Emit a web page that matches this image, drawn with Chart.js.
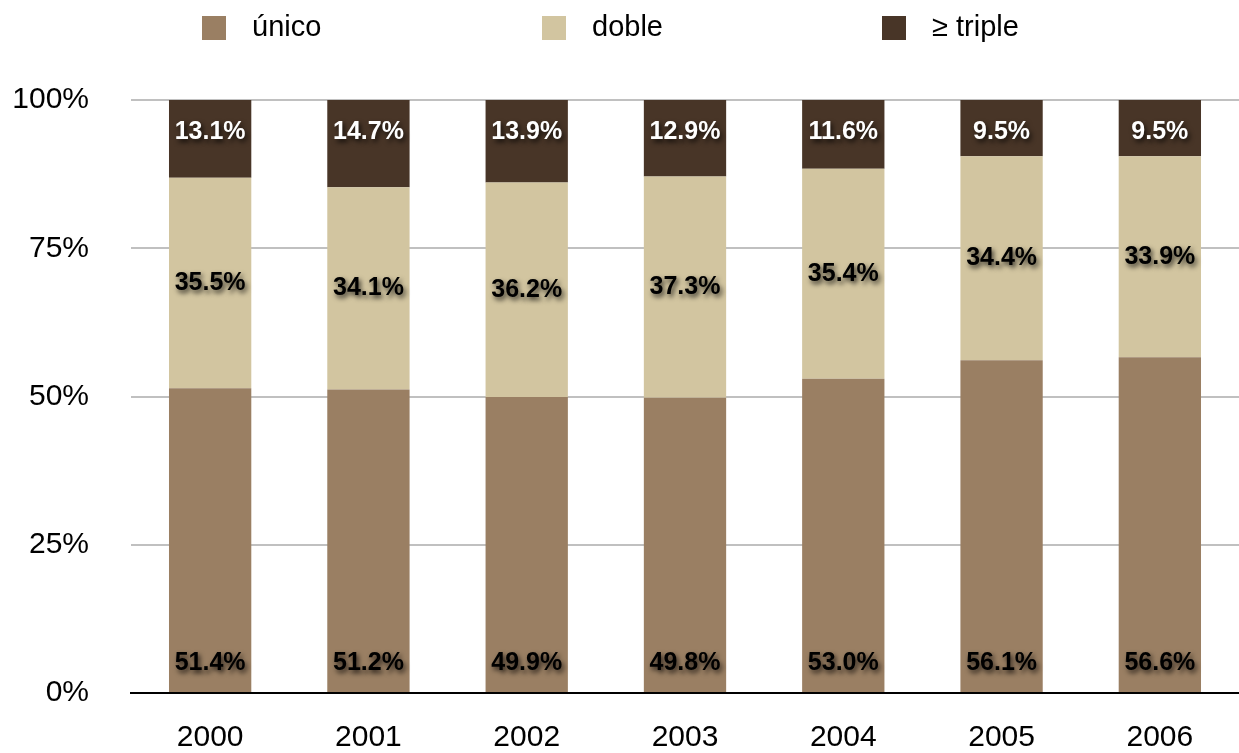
<!DOCTYPE html>
<html>
<head>
<meta charset="utf-8">
<script src="https://cdn.jsdelivr.net/npm/chart.js@4"></script>
<style>
  html, body { margin: 0; padding: 0; background: #fff; }
  #wrap { width: 1239px; height: 753px; }
</style>
</head>
<body>
<div id="wrap"><canvas id="grafico"></canvas></div>
<script>
const years = ['2000', '2001', '2002', '2003', '2004', '2005', '2006']
const unico = [51.4, 51.2, 49.9, 49.8, 53.0, 56.1, 56.6]
const doble = [35.5, 34.1, 36.2, 37.3, 35.4, 34.4, 33.9]
const triple = [13.1, 14.7, 13.9, 12.9, 11.6, 9.5, 9.5]
const seriesNames = ['único', 'doble', '≥ triple']
const seriesColors = ['#9a7f63', '#d2c5a0', '#483527']
const yTicks = [0, 25, 50, 75, 100]

const FONT = "'Liberation Sans', Arial, Helvetica, sans-serif"

// labels inside each bar segment, with a soft shadow
const segmentLabels = {
    id: 'segmentLabels',
    afterDatasetsDraw(chart) {
        const ctx = chart.ctx
        ctx.save()
        ctx.font = 'bold 25px ' + FONT
        ctx.textAlign = 'center'
        ctx.textBaseline = 'middle'
        ctx.shadowColor = 'rgba(0,0,0,0.75)'
        ctx.shadowBlur = 5
        ctx.shadowOffsetX = 2
        ctx.shadowOffsetY = 3
        chart.data.datasets.forEach((ds, i) => {
            chart.getDatasetMeta(i).data.forEach((bar, j) => {
                const top = Math.min(bar.y, bar.base)
                const bottom = Math.max(bar.y, bar.base)
                let y
                if (i === 0) y = bottom - 29
                else if (i === 1) y = (top + bottom) / 2
                else y = top + 32
                ctx.fillStyle = i === 2 ? '#ffffff' : '#000000'
                ctx.fillText(ds.data[j].toFixed(1) + '%', bar.x, y)
            })
        })
        ctx.restore()
    }
}

// legend drawn across the top
const topLegend = {
    id: 'topLegend',
    afterDraw(chart) {
        const ctx = chart.ctx
        ctx.save()
        ctx.font = '29px ' + FONT
        ctx.textBaseline = 'middle'
        seriesNames.forEach((name, i) => {
            const x = 202 + i * 340
            ctx.fillStyle = seriesColors[i]
            ctx.fillRect(x, 16, 24, 24)
            ctx.fillStyle = '#000'
            ctx.fillText(name, x + 50, 28)
        })
        ctx.restore()
    }
}

const data = {
    labels: years,
    datasets: [
        { label: seriesNames[0], data: unico, backgroundColor: seriesColors[0] },
        { label: seriesNames[1], data: doble, backgroundColor: seriesColors[1] },
        { label: seriesNames[2], data: triple, backgroundColor: seriesColors[2] }
    ]
}

const config = {
    type: 'bar',
    data: data,
    options: {
        responsive: true,
        maintainAspectRatio: false,
        animation: false,
        layout: { padding: { top: 100, left: 11, right: 0, bottom: 0 } },
        datasets: {
            bar: { barPercentage: 0.52, categoryPercentage: 1.0, borderWidth: 0 }
        },
        plugins: {
            legend: { display: false },
            tooltip: { enabled: false }
        },
        scales: {
            x: {
                stacked: true,
                afterFit: (axis) => { axis.height = 56 },
                grid: { display: false, drawTicks: false },
                border: { display: true, color: '#000', width: 2, z: 1 },
                ticks: { color: '#000', padding: 27, font: { family: FONT, size: 30 } }
            },
            y: {
                stacked: true,
                min: 0,
                max: 100,
                afterBuildTicks: (axis) => { axis.ticks = yTicks.map(v => ({ value: v })) },
                afterFit: (axis) => { axis.width = 120 },
                grid: {
                    color: (c) => c.tick && c.tick.value === 0 ? '#000' : '#c0c0c0',
                    lineWidth: 2,
                    drawTicks: false
                },
                border: { display: false },
                ticks: {
                    color: '#000',
                    padding: 42,
                    font: { family: FONT, size: 30 },
                    callback: (v) => v + '%'
                }
            }
        }
    },
    plugins: [segmentLabels, topLegend]
}

new Chart(document.getElementById('grafico'), config)
</script>
</body>
</html>
